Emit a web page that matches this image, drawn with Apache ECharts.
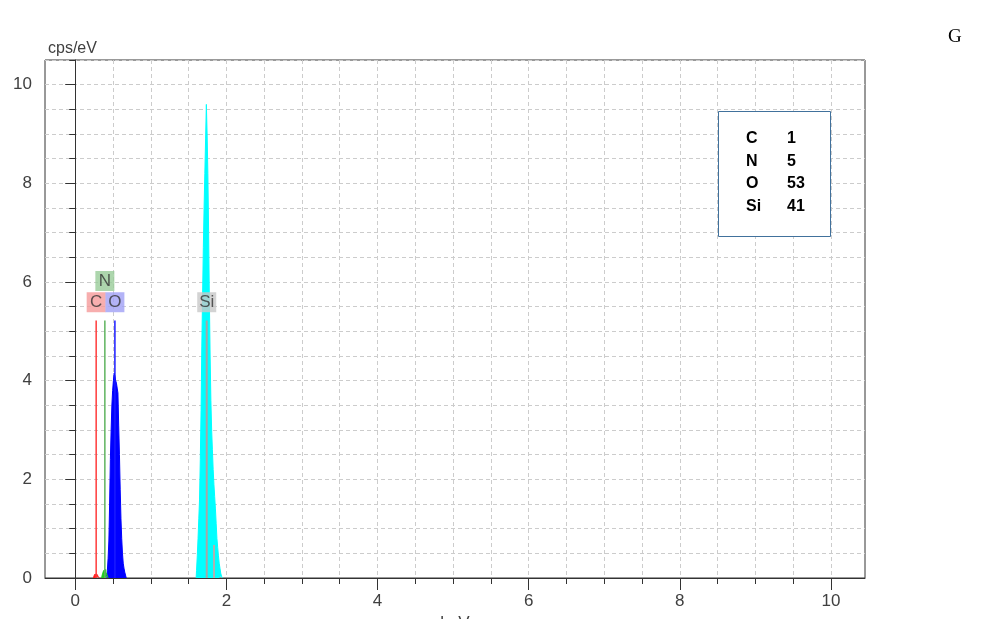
<!DOCTYPE html>
<html>
<head>
<meta charset="utf-8">
<script src="https://cdn.jsdelivr.net/npm/echarts@6/dist/echarts.min.js"></script>
<style>
html,body{margin:0;padding:0;background:#fff;}
#chart{width:981px;height:630px;}
</style>
</head>
<body>
<div id="chart"></div>
<script>
// ---- data (keV, cps/eV) ----
const siKeV = [1.60,1.61,1.62,1.63,1.64,1.65,1.66,1.67,1.68,1.69,1.70,1.71,1.72,1.73,1.74,1.75,1.76,1.77,1.78,1.79,1.80,1.81,1.82,1.83,1.84,1.85,1.86,1.87,1.88,1.89,1.90,1.91,1.92,1.93,1.94,1.95];
const siCps = [0,0.15,0.45,0.8,1.2,1.6,2.4,3.4,4.7,5.7,6.7,7.5,8.2,8.9,9.6,9.0,8.2,7.0,5.6,4.5,3.6,3.0,2.6,2.2,1.9,1.65,1.4,1.1,0.8,0.62,0.45,0.3,0.2,0.1,0.04,0];

const oKeV = [0.42,0.43,0.44,0.45,0.46,0.47,0.48,0.49,0.50,0.51,0.52,0.53,0.54,0.55,0.56,0.57,0.58,0.59,0.60,0.61,0.62,0.63,0.64,0.65,0.66,0.67,0.68];
const oCps = [0,0.15,0.4,0.75,1.5,2.4,3.0,3.5,3.8,4.0,4.15,4.1,4.0,3.95,3.85,3.75,3.1,2.5,1.8,1.2,0.8,0.5,0.3,0.2,0.12,0.06,0];

const nKeV = [0.35,0.36,0.37,0.38,0.39,0.40,0.41,0.42,0.43,0.44];
const nCps = [0,0.05,0.1,0.15,0.18,0.17,0.12,0.08,0.04,0];

const cKeV = [0.24,0.25,0.26,0.27,0.28,0.29,0.30,0.31,0.32];
const cCps = [0,0.04,0.07,0.1,0.08,0.06,0.05,0.03,0];

// element identification lines
const elements = ['C','N','O','Si'];
const elementKeV = [0.277, 0.392, 0.525, 1.740];
const markerHeight = 5.22;
const siKbKeV = 1.836;
const siKbHeight = 0.67;

// composition table
const tableElements = ['C','N','O','Si'];
const tableValues = ['1','5','53','41'];

// axis ticks
const xMajorTicks = [0,2,4,6,8,10];
const xMinorTicks = [0,0.5,1,1.5,2,2.5,3,3.5,4,4.5,5,5.5,6,6.5,7,7.5,8,8.5,9,9.5,10];
const yMajorTicks = [0,2,4,6,8,10];

// ---- styles ----
const elemColors = {C:'#ff3b3b', N:'#5fb35f', O:'#1a1aff', Si:'#a6a6a6'};
const boxColors = {C:'#f59a9a', N:'#99cc99', O:'#a0a0f5', Si:'#c8c8c8'};
const boxLevel = {C:5.59, N:6.02, O:5.59, Si:5.59};
const FONT = '"Liberation Sans",sans-serif';

const zip = (a,b) => a.map((v,i)=>[v,b[i]]);

function spectrum(name, xs, ys, color){
  return {
    name, type:'line', step:'middle', symbol:'none', z:2,
    data: zip(xs, ys),
    lineStyle:{color, width:1},
    areaStyle:{color, opacity:1},
    itemStyle:{color},
    silent:true, animation:false
  };
}

const series = [
  spectrum('Si', siKeV, siCps, '#00ffff'),
  spectrum('O', oKeV, oCps, '#0000ff'),
  spectrum('N', nKeV, nCps, '#22cc22'),
  spectrum('C', cKeV, cCps, '#ff2020'),
];

elements.forEach((el,i)=>{
  series.push({
    type:'line', symbol:'none', z:3, animation:false, silent:true,
    data:[[elementKeV[i],0],[elementKeV[i],markerHeight]],
    lineStyle:{color:elemColors[el], width: el==='Si'?2:1.5}
  });
});
series.push({
  type:'line', symbol:'none', z:3, animation:false, silent:true,
  data:[[siKbKeV,0],[siKbKeV,siKbHeight]],
  lineStyle:{color:'#b0b0b0', width:2}
});
series.push({
  type:'scatter', z:5, animation:false, silent:true,
  symbol:'rect', symbolSize:[19,20],
  data: elements.map((el,i)=>({
    value:[elementKeV[i], boxLevel[el]],
    itemStyle:{color:boxColors[el]},
    label:{show:true, position:'inside', formatter:el, color:'#333', fontSize:17, fontFamily:FONT}
  }))
});

const chart = echarts.init(document.getElementById('chart'), null, {renderer:'canvas'});
const gridLine = {show:true, lineStyle:{color:'#cccccc', type:[4,3], width:1}};
const axisColor = '#333';

chart.setOption({
  animation:false,
  backgroundColor:'#fff',
  grid:{left:45, top:60, right:116, bottom:52, containLabel:false, outerBoundsMode:'none',
        show:true, borderColor:axisColor, borderWidth:1, backgroundColor:'transparent'},
  xAxis:[
    {type:'value', min:-0.4, max:10.45, position:'bottom',
     name:'keV', nameLocation:'middle', nameGap:37,
     nameTextStyle:{fontSize:17, color:'#404040', fontFamily:FONT},
     axisLine:{show:true, onZero:false, lineStyle:{color:axisColor, width:1}},
     axisTick:{show:true, customValues:xMajorTicks, length:12, lineStyle:{color:axisColor}},
     axisLabel:{show:true, customValues:xMajorTicks, fontSize:17, color:'#404040', fontFamily:FONT, margin:15},
     splitLine:{show:false}},
    {type:'value', min:-0.4, max:10.45, position:'bottom', gridIndex:0,
     axisLine:{show:false, onZero:false},
     axisTick:{show:true, customValues:xMinorTicks, length:6, lineStyle:{color:axisColor}},
     axisLabel:{show:false},
     splitLine:gridLine}
  ],
  yAxis:[
    {type:'value', min:0, max:10.5, position:'left',
     axisLine:{show:true, lineStyle:{color:axisColor, width:1}},
     axisTick:{show:true, customValues:yMajorTicks, length:10, lineStyle:{color:axisColor}},
     axisLabel:{show:true, customValues:yMajorTicks, fontSize:17, color:'#404040', fontFamily:FONT, margin:13},
     splitLine:{show:false}},
    {type:'value', min:0, max:10.5, interval:0.5, position:'left',
     axisLine:{show:false},
     axisTick:{show:true, length:6, lineStyle:{color:axisColor}},
     axisLabel:{show:false},
     splitLine:gridLine}
  ],
  series: series.map(s=>Object.assign({xAxisIndex:0, yAxisIndex:0}, s)),
  graphic:[
    {type:'text', left:48, top:41, z:11,
     style:{text:'cps/eV', font:'16px "Liberation Sans",sans-serif', fill:'#404040'}},
    // page edge: the original figure is cropped just below the axis title
    {type:'rect', left:0, top:619, shape:{width:981, height:11}, style:{fill:'#fff'}, z:20},
    {type:'rect', left:718, top:111, shape:{width:112, height:125},
     style:{fill:'#fff', stroke:'#41719c', lineWidth:1}, z:10},
    ...tableElements.flatMap((el,i)=>[
      {type:'text', left:746, top:131 + i*22.5, z:11,
       style:{text:el, font:'bold 16px "Liberation Sans",sans-serif', fill:'#000'}},
      {type:'text', left:787, top:131 + i*22.5, z:11,
       style:{text:tableValues[i], font:'bold 16px "Liberation Sans",sans-serif', fill:'#000'}}
    ]),
    {type:'text', left:948, top:28, z:11,
     style:{text:'G', font:'19px "Liberation Serif","Times New Roman",serif', fill:'#000'}}
  ]
});
</script>
</body>
</html>
